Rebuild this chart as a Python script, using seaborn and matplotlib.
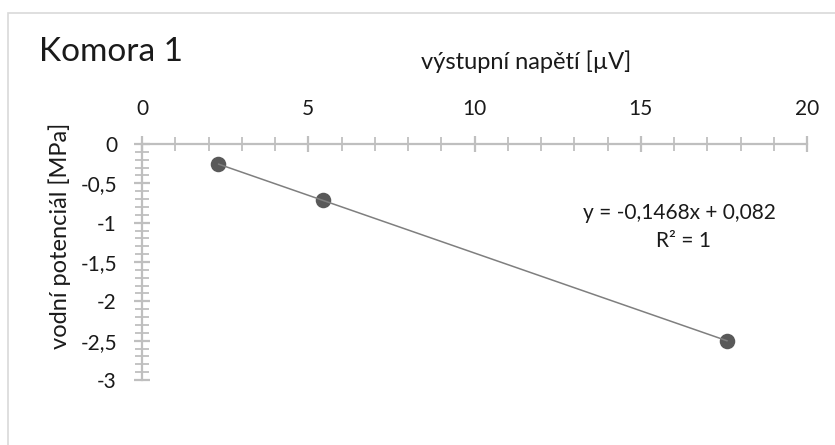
import numpy as np
import matplotlib
matplotlib.use("Agg")
import matplotlib.pyplot as plt
from matplotlib.patches import Rectangle
from matplotlib.ticker import MultipleLocator, FuncFormatter
import seaborn as sns

# Measured output voltage [µV] and corresponding water potential [MPa]
napeti = [2.30, 5.44, 17.60]
potencial = [-0.255, -0.717, -2.502]

# Linear trendline parameters shown in the annotation
sklon = -0.1468
posun = 0.082
r2 = 1

titulek = "Komora 1"
popis_x = "výstupní napětí [µV]"
popis_y = "vodní potenciál [MPa]"

sns.set_theme(style="white")
plt.rcParams["font.family"] = ["Lato", "DejaVu Sans"]

W, H = 835, 445
fig = plt.figure(figsize=(W / 100, H / 100), dpi=100)
fig.patch.set_facecolor("white")

# chart frame
fig.patches.append(Rectangle((8 / W, -0.05), 1.0, 1 - 13 / H + 0.05,
                             transform=fig.transFigure, fill=False,
                             edgecolor="#d9d9d9", lw=1.2))

ax = fig.add_axes([142 / W, 1 - 380 / H, (807 - 142) / W, (380 - 144) / H])
ax.set_facecolor("none")

sns.regplot(x=napeti, y=potencial, ax=ax, ci=None, truncate=True,
            scatter_kws=dict(s=125, color="#595959", alpha=1, linewidths=0, zorder=3),
            line_kws=dict(color="#7f7f7f", lw=1.1, zorder=4))

ax.set_xlim(0, 20)
ax.set_ylim(-3, 0)

axis_col = "#bfbfbf"
for side in ("right", "bottom"):
    ax.spines[side].set_visible(False)
for side in ("top", "left"):
    ax.spines[side].set_color(axis_col)
    ax.spines[side].set_linewidth(1.6)

ax.xaxis.tick_top()
ax.xaxis.set_major_locator(MultipleLocator(5))
ax.xaxis.set_minor_locator(MultipleLocator(1))
ax.yaxis.set_major_locator(MultipleLocator(0.5))
ax.yaxis.set_minor_locator(MultipleLocator(0.1))

fmt = FuncFormatter(lambda v, p: ("%g" % v).replace(".", ","))
ax.yaxis.set_major_formatter(fmt)
ax.xaxis.set_major_formatter(fmt)

txt = "#1a1a1a"
ax.tick_params(which="major", direction="inout", length=12, width=1.6,
               color=axis_col, labelsize=15, labelcolor=txt)
ax.tick_params(which="minor", direction="inout", length=10, width=1.3,
               color=axis_col)
ax.tick_params(axis="x", which="both", top=True, bottom=False, pad=12)
ax.tick_params(axis="y", which="both", left=True, right=False, pad=12)
ax.set_xlabel("")
ax.set_ylabel("")

fig.text(39 / W, 1 - 61 / H, titulek, fontsize=24, color=txt,
         ha="left", va="baseline")
fig.text(526 / W, 1 - 69 / H, popis_x, fontsize=17, color=txt,
         ha="center", va="baseline")
fig.text(60 / W, 1 - 236 / H, popis_y, fontsize=17, color=txt,
         ha="center", va="center", rotation=90)

rovnice = "y = %sx + %s" % (("%.4f" % sklon).replace(".", ","),
                            ("%.3f" % posun).replace(".", ","))
fig.text(679 / W, 1 - 213 / H, rovnice, fontsize=15, color=txt,
         ha="center", va="center")
fig.text(683 / W, 1 - 241 / H, "R² = %d" % r2, fontsize=15, color=txt,
         ha="center", va="center")

fig.savefig("out.png", dpi=100, facecolor="white")
